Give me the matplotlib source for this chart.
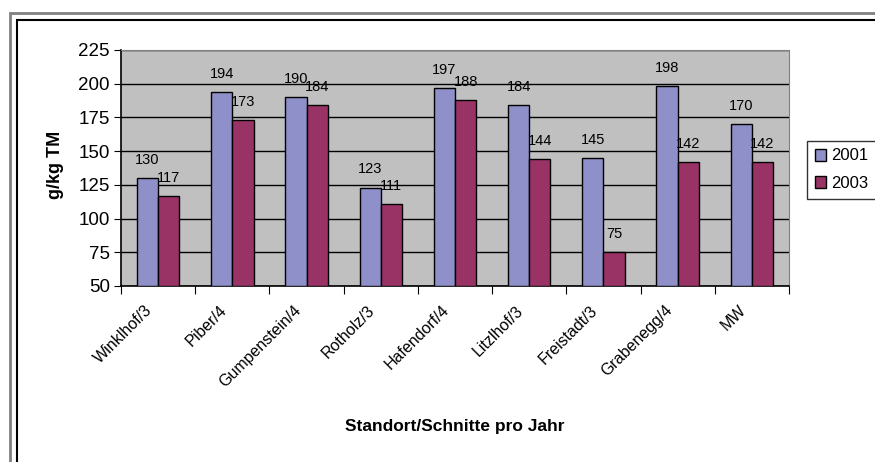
import numpy as np
import matplotlib
matplotlib.use("Agg")
from matplotlib import pyplot as plt
from matplotlib import transforms
from matplotlib.patches import Rectangle

plt.rcParams['font.family'] = ['Liberation Sans', 'DejaVu Sans']

standorte = ["Winklhof/3", "Piber/4", "Gumpenstein/4", "Rotholz/3", "Hafendorf/4",
             "Litzlhof/3", "Freistadt/3", "Grabenegg/4", "MW"]
werte_2001 = [130, 194, 190, 123, 197, 184, 145, 198, 170]
werte_2003 = [117, 173, 184, 111, 188, 144, 75, 142, 142]

col_2001 = "#8f8fc9"
col_2003 = "#993366"

W, H = 875, 462
fig = plt.figure(figsize=(W / 100, H / 100), dpi=100)

# double frame around the chart
fig.patches.append(Rectangle((10 / W, -0.1), 1.2, 1 - 13 / H + 0.1,
                             transform=fig.transFigure, fill=False,
                             edgecolor="#808080", linewidth=2.0))
fig.patches.append(Rectangle((17 / W, -0.1), 1.2, 1 - 20 / H + 0.1,
                             transform=fig.transFigure, fill=False,
                             edgecolor="black", linewidth=1.5))

ax = fig.add_axes([121 / W, 1 - 286 / H, (789 - 121) / W, (286 - 50) / H])
ax.set_facecolor("#c0c0c0")

x = np.arange(len(standorte))
w = 1 / 3.5
ax.bar(x - w / 2, np.array(werte_2001) - 50, w, bottom=50, color=col_2001,
       edgecolor="black", linewidth=1.0, label="2001", zorder=3)
ax.bar(x + w / 2, np.array(werte_2003) - 50, w, bottom=50, color=col_2003,
       edgecolor="black", linewidth=1.0, label="2003", zorder=3)

for xi, v in zip(x, werte_2001):
    ax.annotate(str(v), (xi - w / 2, v), xytext=(0, 8), textcoords="offset points",
                ha="center", va="bottom", fontsize=10.5)
for xi, v in zip(x, werte_2003):
    ax.annotate(str(v), (xi + w / 2, v), xytext=(0, 8), textcoords="offset points",
                ha="center", va="bottom", fontsize=10.5)

ax.set_ylim(50, 225)
ax.set_xlim(-0.5, len(standorte) - 0.5)
ax.set_yticks(np.arange(50, 226, 25))
ax.yaxis.grid(True, color="black", linewidth=1.0, zorder=1)
ax.set_axisbelow(True)

# tick marks between the groups, names drawn separately
ax.set_xticks(np.arange(-0.5, len(standorte), 1.0))
ax.set_xticklabels([])
ax.tick_params(axis="x", which="major", length=6, direction="out", color="black")
ax.tick_params(axis="y", length=5, direction="out", labelsize=13.5, pad=3)

lab_trans = ax.get_xaxis_transform() + transforms.ScaledTranslation(-8 / 100, -22 / 100, fig.dpi_scale_trans)
for xi, name in zip(x, standorte):
    ax.text(xi, 0, name, transform=lab_trans, rotation=45, rotation_mode="anchor",
            ha="right", va="center", fontsize=11.5)

for side in ["top", "right"]:
    ax.spines[side].set_color("#808080")
for side in ["left", "bottom"]:
    ax.spines[side].set_color("black")
    ax.spines[side].set_linewidth(1.2)

fig.text(55 / W, 1 - 165 / H, "g/kg TM", rotation=90, ha="center", va="center",
         fontsize=13, fontweight="bold")
fig.text(455 / W, 1 - 427 / H, "Standort/Schnitte pro Jahr", ha="center", va="center",
         fontsize=12.5, fontweight="bold")

leg = ax.legend(loc="upper left", bbox_to_anchor=(807 / W, 1 - 141 / H),
                bbox_transform=fig.transFigure, frameon=True, fancybox=False,
                edgecolor="black", fontsize=12, handlelength=0.7, handleheight=0.7,
                handletextpad=0.3, borderpad=0.45, labelspacing=0.75, borderaxespad=0)
leg.get_frame().set_linewidth(1.0)

fig.savefig("out.png", dpi=100)
